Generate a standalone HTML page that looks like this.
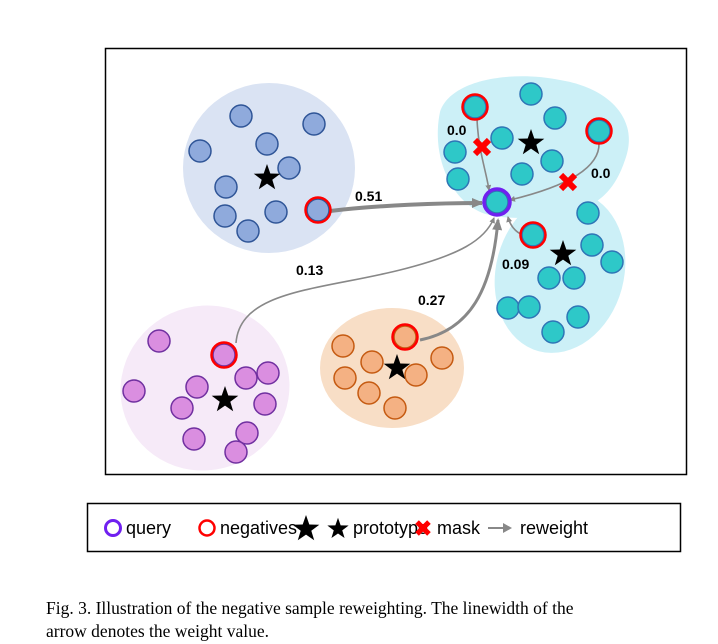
<!DOCTYPE html>
<html><head><meta charset="utf-8"><style>
body{margin:0;background:#fff;width:718px;height:644px;overflow:hidden}
svg{display:block}
.cap{font-family:"Liberation Serif",serif;font-size:17.5px;fill:#000}
.lb{font-family:"Liberation Sans",sans-serif;font-weight:bold;font-size:14px;fill:#000}
.lg{font-family:"Liberation Sans",sans-serif;font-size:18px;fill:#000}
</style></head><body>
<svg width="718" height="644" viewBox="0 0 718 644">
<defs>
<polygon id="st" points="0,-14 3.3,-4.5 13.3,-4.3 5.3,1.7 8.2,11.3 0,5.6 -8.2,11.3 -5.3,1.7 -13.3,-4.3 -3.3,-4.5" fill="#000"/>
<g id="xm"><line x1="-7" y1="-7" x2="7" y2="7" stroke="#f00" stroke-width="6"/><line x1="7" y1="-7" x2="-7" y2="7" stroke="#f00" stroke-width="6"/></g>
<marker id="ah" markerWidth="4" markerHeight="4" refX="3" refY="2" orient="auto" markerUnits="strokeWidth"><path d="M0,0 L4,2 L0,4 z" fill="#888"/></marker>
<marker id="ah2" markerWidth="6" markerHeight="6" refX="5" refY="3" orient="auto" markerUnits="userSpaceOnUse"><path d="M0,0 L6,3 L0,6 z" fill="#888"/></marker>
<marker id="ah3" markerWidth="12" markerHeight="10" refX="10" refY="5" orient="auto" markerUnits="userSpaceOnUse"><path d="M0,0 L12,5 L0,10 z" fill="#888"/></marker>
</defs>
<rect x="105.5" y="48.5" width="581" height="426" fill="none" stroke="#000" stroke-width="1.5"/>
<!-- clusters -->
<ellipse cx="269" cy="168" rx="86" ry="85" fill="#dae3f3"/>
<path d="M440,112 C450,80 510,70 560,80 C610,88 640,120 625,160 C615,190 600,200 590,205 C560,215 520,222 490,215 C455,208 430,160 440,112 Z" fill="#ccf0f7"/>
<ellipse cx="560" cy="272" rx="64" ry="82" transform="rotate(15 560 272)" fill="#ccf0f7"/>
<ellipse cx="205" cy="388" rx="85" ry="82" transform="rotate(-25 205 388)" fill="#f6eaf8"/>
<ellipse cx="392" cy="368" rx="72" ry="60" fill="#f8dec6"/>
<!-- arrows -->
<g fill="none" stroke="#888">
<path d="M330,211 C380,205 440,203 482,203" stroke-width="4" marker-end="url(#ah3)"/>
<path d="M236,343 C240,290 320,290 400,270 C460,255 485,240 494,218" stroke-width="1.6" marker-end="url(#ah2)"/>
<path d="M420,340 C470,330 492,290 498,220" stroke-width="3" marker-end="url(#ah3)"/>
<path d="M477,118 C478,150 486,170 489,190" stroke-width="1.6" marker-end="url(#ah2)"/>
<path d="M599,143 C600,170 560,188 510,200" stroke-width="1.6" marker-end="url(#ah2)"/>
<path d="M523,235 C515,232 510,225 508,217" stroke-width="1.6" marker-end="url(#ah2)"/>
</g>
<!-- blue dots -->
<g fill="#8faadc" stroke="#2f5597" stroke-width="1.5">
<circle cx="241" cy="116" r="11"/><circle cx="314" cy="124" r="11"/><circle cx="267" cy="144" r="11"/><circle cx="200" cy="151" r="11"/><circle cx="289" cy="168" r="11"/><circle cx="226" cy="187" r="11"/><circle cx="225" cy="216" r="11"/><circle cx="276" cy="212" r="11"/><circle cx="248" cy="231" r="11"/><circle cx="318" cy="210" r="11"/>
</g>
<circle cx="318" cy="210" r="12.5" fill="none" stroke="#f00" stroke-width="2.5"/>
<use href="#st" x="267" y="178"/>
<!-- cyan dots -->
<g fill="#2ec8c8" stroke="#2e75b6" stroke-width="1.5">
<circle cx="475" cy="107" r="11"/><circle cx="531" cy="94" r="11"/><circle cx="555" cy="118" r="11"/><circle cx="599" cy="131" r="11"/><circle cx="502" cy="138" r="11"/><circle cx="455" cy="152" r="11"/><circle cx="552" cy="161" r="11"/><circle cx="458" cy="179" r="11"/><circle cx="522" cy="174" r="11"/>
<circle cx="588" cy="213" r="11"/><circle cx="533" cy="235" r="11"/><circle cx="592" cy="245" r="11"/><circle cx="612" cy="262" r="11"/><circle cx="549" cy="278" r="11"/><circle cx="574" cy="278" r="11"/><circle cx="508" cy="308" r="11"/><circle cx="529" cy="307" r="11"/><circle cx="578" cy="317" r="11"/><circle cx="553" cy="332" r="11"/>
<circle cx="497" cy="202" r="11"/>
</g>
<g fill="none" stroke="#f00" stroke-width="2.5"><circle cx="475" cy="107" r="12.5"/><circle cx="599" cy="131" r="12.5"/><circle cx="533" cy="235" r="12.5"/></g>
<circle cx="497" cy="202" r="13" fill="none" stroke="#7020f0" stroke-width="3.5"/>
<use href="#st" x="531" y="143"/><use href="#st" x="563" y="254"/>
<use href="#xm" x="482" y="147"/><use href="#xm" x="568" y="182"/>
<!-- purple -->
<g fill="#da8ee0" stroke="#7030a0" stroke-width="1.5">
<circle cx="159" cy="341" r="11"/><circle cx="224" cy="355" r="11"/><circle cx="246" cy="378" r="11"/><circle cx="268" cy="373" r="11"/><circle cx="197" cy="387" r="11"/><circle cx="134" cy="391" r="11"/><circle cx="182" cy="408" r="11"/><circle cx="265" cy="404" r="11"/><circle cx="194" cy="439" r="11"/><circle cx="247" cy="433" r="11"/><circle cx="236" cy="452" r="11"/>
</g>
<circle cx="224" cy="355" r="12.5" fill="none" stroke="#f00" stroke-width="2.5"/>
<use href="#st" x="225" y="400"/>
<!-- orange -->
<g fill="#f4b183" stroke="#c55a11" stroke-width="1.5">
<circle cx="405" cy="337" r="11"/><circle cx="343" cy="346" r="11"/><circle cx="372" cy="362" r="11"/><circle cx="442" cy="358" r="11"/><circle cx="345" cy="378" r="11"/><circle cx="416" cy="375" r="11"/><circle cx="369" cy="393" r="11"/><circle cx="395" cy="408" r="11"/>
</g>
<circle cx="405" cy="337" r="12.5" fill="none" stroke="#f00" stroke-width="2.5"/>
<use href="#st" x="397" y="368"/>
<!-- labels -->
<text class="lb" x="355" y="201">0.51</text>
<text class="lb" x="296" y="275">0.13</text>
<text class="lb" x="418" y="305">0.27</text>
<text class="lb" x="447" y="135">0.0</text>
<text class="lb" x="591" y="178">0.0</text>
<text class="lb" x="502" y="269">0.09</text>
<!-- legend -->
<rect x="87.5" y="503.5" width="593" height="48" fill="none" stroke="#000" stroke-width="1.5"/>
<circle cx="113" cy="528" r="7.5" fill="none" stroke="#7020f0" stroke-width="3"/>
<text class="lg" x="126" y="534">query</text>
<circle cx="207" cy="528" r="7.5" fill="none" stroke="#f00" stroke-width="2.5"/>
<text class="lg" x="220" y="534">negatives</text>
<use href="#st" x="306" y="0" transform="translate(0,529) scale(1)"/>
<polygon points="0,-14 3.3,-4.5 13.3,-4.3 5.3,1.7 8.2,11.3 0,5.6 -8.2,11.3 -5.3,1.7 -13.3,-4.3 -3.3,-4.5" transform="translate(338,529) scale(0.8)" fill="#000"/>
<text class="lg" x="353" y="534">prototype</text>
<g transform="translate(423,528) scale(0.85)"><use href="#xm"/></g>
<text class="lg" x="437" y="534">mask</text>
<line x1="488" y1="528" x2="505" y2="528" stroke="#888" stroke-width="2"/>
<path d="M503,523 L512,528 L503,533 z" fill="#888"/>
<text class="lg" x="520" y="534">reweight</text>
<!-- caption -->
<text class="cap" x="46" y="614">Fig. 3.   Illustration of the negative sample reweighting. The linewidth of the</text>
<text class="cap" x="46" y="637">arrow denotes the weight value.</text>
</svg>
</body></html>
